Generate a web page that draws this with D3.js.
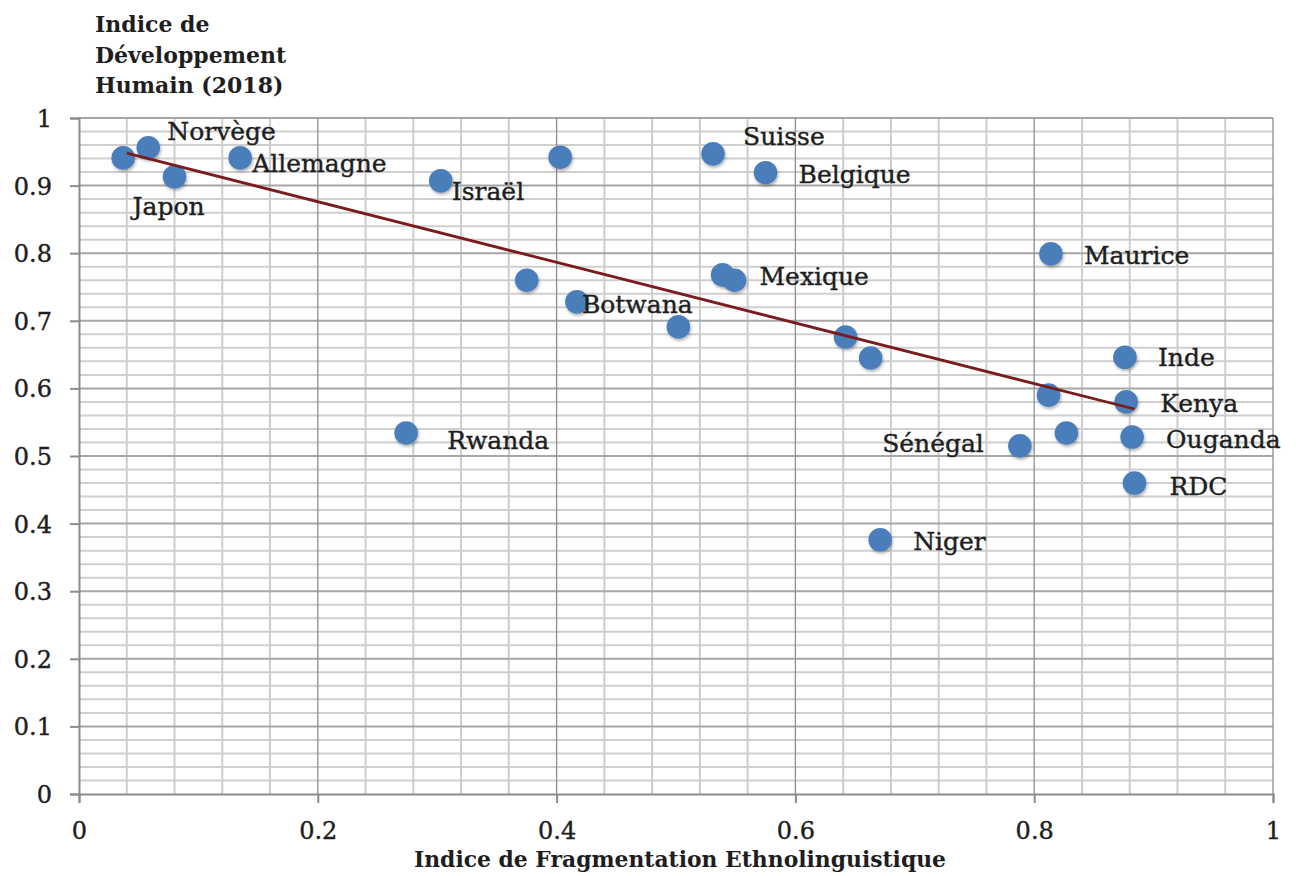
<!DOCTYPE html>
<html>
<head>
<meta charset="utf-8">
<script src="https://cdn.jsdelivr.net/npm/d3@7"></script>
<style>
  html, body { margin: 0; padding: 0; background: #ffffff; }
  svg { display: block; }
</style>
</head>
<body>
<svg id="chart" width="1296" height="876"></svg>
<script>
// ---- Data ----
const countries = ["", "Norvège", "Japon", "Allemagne", "Rwanda", "Israël", "", "", "Botwana", "",
  "Suisse", "", "Mexique", "Belgique", "", "", "Niger", "Sénégal", "", "Maurice",
  "", "Inde", "Kenya", "Ouganda", "RDC"];
const elfValues = [0.037, 0.058, 0.080, 0.135, 0.274, 0.303, 0.375, 0.403, 0.417, 0.502,
  0.531, 0.539, 0.549, 0.575, 0.642, 0.663, 0.671, 0.788, 0.812, 0.814,
  0.827, 0.876, 0.877, 0.882, 0.884];
const idhValues = [0.941, 0.956, 0.913, 0.941, 0.534, 0.907, 0.760, 0.942, 0.728, 0.691,
  0.947, 0.768, 0.760, 0.919, 0.676, 0.645, 0.376, 0.515, 0.590, 0.799,
  0.534, 0.646, 0.580, 0.528, 0.460];
const trendX = [0.040, 0.884];
const trendY = [0.948, 0.5695];
const xTicks = [0, 0.2, 0.4, 0.6, 0.8, 1];
const yTicks = [0, 0.1, 0.2, 0.3, 0.4, 0.5, 0.6, 0.7, 0.8, 0.9, 1];
const xTickLabels = ["0", "0.2", "0.4", "0.6", "0.8", "1"];
const yTickLabels = ["0", "0.1", "0.2", "0.3", "0.4", "0.5", "0.6", "0.7", "0.8", "0.9", "1"];
const xTitle = "Indice de Fragmentation Ethnolinguistique";
const yTitleLines = ["Indice de", "Développement", "Humain (2018)"];

// ---- Label placement (pixel offsets from the dot, style only) ----
const labelOffsets = {
  "Norvège": [19, -8, "start"], "Japon": [-42, 38, "start"], "Allemagne": [12, 14, "start"],
  "Israël": [11, 19, "start"], "Suisse": [30, -9, "start"], "Belgique": [33, 10, "start"],
  "Mexique": [25, 5, "start"], "Botwana": [5, 11, "start"], "Maurice": [33, 10, "start"],
  "Inde": [33, 9, "start"], "Kenya": [34, 10, "start"], "Ouganda": [34, 11, "start"],
  "RDC": [35, 12, "start"], "Sénégal": [-36, 6, "end"], "Rwanda": [41, 16, "start"],
  "Niger": [33, 10, "start"]
};

(function () {
const points = countries.map((c, i) => ({ name: c, x: elfValues[i], y: idhValues[i] }));

// ---- Layout ----
const pL = 79, pR = 1273, pT = 118, pB = 794;
const x = d3.scaleLinear().domain([0, 1]).range([pL, pR]);
const y = d3.scaleLinear().domain([0, 1]).range([pB, pT]);

const svg = d3.select("#chart");
const serif = "'DejaVu Serif', serif";
const ink = "#1e1e1e";

// drop shadow for dots
const defs = svg.append("defs");
const f = defs.append("filter").attr("id", "shadow").attr("x", "-50%").attr("y", "-50%").attr("width", "200%").attr("height", "200%");
f.append("feDropShadow").attr("dx", 1).attr("dy", 2).attr("stdDeviation", 1.5)
  .attr("flood-color", "#000").attr("flood-opacity", 0.3);

// ---- Grid ----
const grid = svg.append("g");
const minorX = d3.range(0, 26).map(i => i * 0.04).filter((v, i) => i % 5 !== 0);
const minorY = d3.range(0, 51).map(i => i * 0.02).filter((v, i) => i % 5 !== 0);

grid.selectAll(".minor-y").data(minorY).join("line")
  .attr("x1", pL).attr("x2", pR)
  .attr("y1", d => y(d)).attr("y2", d => y(d))
  .attr("stroke", "#cfcfcf").attr("stroke-width", 2);
grid.selectAll(".minor-x").data(minorX).join("line")
  .attr("y1", pT).attr("y2", pB)
  .attr("x1", d => x(d)).attr("x2", d => x(d))
  .attr("stroke", "#cdcdcd").attr("stroke-width", 2);
grid.selectAll(".major-y").data(yTicks.filter(d => d > 0)).join("line")
  .attr("x1", pL).attr("x2", pR)
  .attr("y1", d => y(d)).attr("y2", d => y(d))
  .attr("stroke", "#a6a6a6").attr("stroke-width", 2);
grid.selectAll(".major-x").data(xTicks.filter(d => d > 0)).join("line")
  .attr("y1", pT).attr("y2", pB)
  .attr("x1", d => x(d)).attr("x2", d => x(d))
  .attr("stroke", "#8f8f8f").attr("stroke-width", 1.3);

// ---- Axes ----
const yAxis = d3.axisLeft(y).tickValues(yTicks).tickSize(9).tickPadding(18)
  .tickFormat((d, i) => yTickLabels[i]);
const gy = svg.append("g").attr("transform", `translate(${pL},0)`).call(yAxis);
gy.select(".domain").attr("stroke", "#8c8c8c").attr("stroke-width", 2);
gy.selectAll(".tick line").attr("stroke", "#8c8c8c").attr("stroke-width", 2);
gy.selectAll(".tick text").attr("font-family", serif).attr("font-size", 24)
  .attr("fill", ink).attr("stroke", ink).attr("stroke-width", 0.4).attr("dy", "0.35em");

const xAxis = d3.axisBottom(x).tickValues(xTicks).tickSize(9).tickPadding(19)
  .tickFormat((d, i) => xTickLabels[i]);
const gx = svg.append("g").attr("transform", `translate(0,${pB})`).call(xAxis);
gx.select(".domain").attr("stroke", "#8c8c8c").attr("stroke-width", 2);
gx.selectAll(".tick line").attr("stroke", "#8c8c8c").attr("stroke-width", 2);
gx.selectAll(".tick text").attr("font-family", serif).attr("font-size", 24)
  .attr("fill", ink).attr("stroke", ink).attr("stroke-width", 0.4).attr("dy", "0.71em");

// ---- Dots ----
svg.append("g").selectAll("circle").data(points).join("circle")
  .attr("cx", d => x(d.x)).attr("cy", d => y(d.y)).attr("r", 11.8)
  .attr("fill", "#4a7ebb").attr("filter", "url(#shadow)");

// ---- Trend line ----
svg.append("line")
  .attr("x1", x(trendX[0])).attr("y1", y(trendY[0]))
  .attr("x2", x(trendX[1])).attr("y2", y(trendY[1]))
  .attr("stroke", "#7a1b1e").attr("stroke-width", 2.8);

// ---- Labels ----
svg.append("g").selectAll("text").data(points.filter(d => d.name)).join("text")
  .attr("x", d => x(d.x) + labelOffsets[d.name][0])
  .attr("y", d => y(d.y) + labelOffsets[d.name][1])
  .attr("text-anchor", d => labelOffsets[d.name][2])
  .attr("font-family", serif).attr("font-size", 25)
  .attr("fill", ink).attr("stroke", ink).attr("stroke-width", 0.4)
  .text(d => d.name);

// ---- Titles ----
svg.append("text").attr("x", 414).attr("y", 867)
  .attr("font-family", serif).attr("font-weight", "bold").attr("font-size", 22)
  .attr("fill", ink).attr("textLength", 532).attr("lengthAdjust", "spacingAndGlyphs")
  .text(xTitle);

svg.append("g").selectAll("text").data(yTitleLines).join("text")
  .attr("x", 95).attr("y", (d, i) => 32 + i * 30.5)
  .attr("font-family", serif).attr("font-weight", "bold").attr("font-size", 22)
  .attr("fill", ink).text(d => d);
})();
</script>
</body>
</html>
